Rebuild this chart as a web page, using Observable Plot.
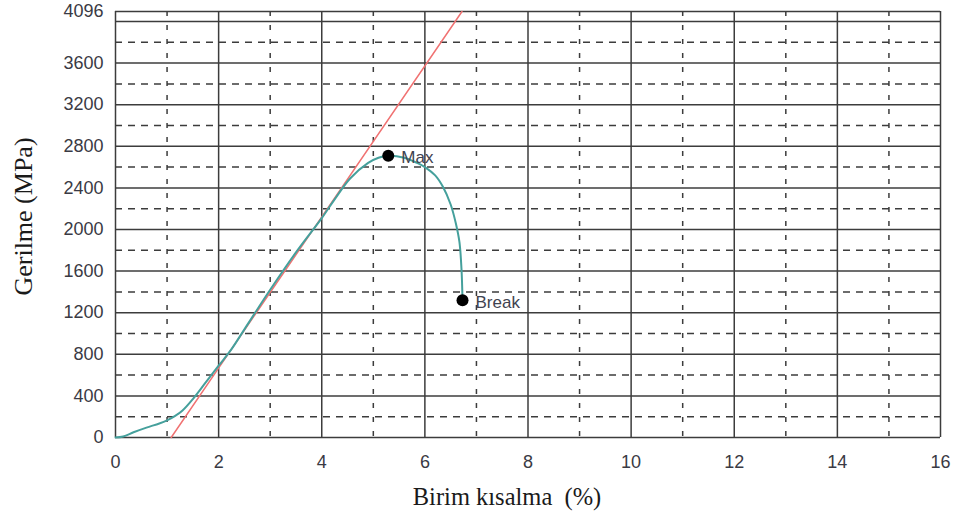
<!DOCTYPE html>
<html>
<head>
<meta charset="utf-8">
<script src="https://cdn.jsdelivr.net/npm/d3@7"></script>
<script src="https://cdn.jsdelivr.net/npm/@observablehq/plot@0.6"></script>
<style>
  html, body { margin: 0; padding: 0; background: #fff; }
</style>
</head>
<body>
<div id="chart"></div>
<script>
// Tick labels and grid positions
const xTicks = [0, 2, 4, 6, 8, 10, 12, 14, 16];
const xDashed = [1, 3, 5, 7, 9, 11, 13, 15];
const yTicks = [0, 400, 800, 1200, 1600, 2000, 2400, 2800, 3200, 3600, 4096];
const ySolid = [0, 400, 800, 1200, 1600, 2000, 2400, 2800, 3200, 3600, 4000, 4096];
const yDashed = [200, 600, 1000, 1400, 1800, 2200, 2600, 3000, 3400, 3800];

// Stress-strain curve (strain %, stress MPa)
const strain = [0, 0.15, 0.35, 0.6, 0.85, 1.0, 1.15, 1.3, 1.5, 1.75, 2.0, 2.25, 2.5, 3.0, 3.5, 4.0, 4.25, 4.55, 4.9, 5.1, 5.3, 5.6, 5.85, 6.0, 6.2, 6.35, 6.5, 6.6, 6.67, 6.71, 6.73];
const stress = [0, 10, 50, 95, 135, 165, 205, 260, 370, 530, 690, 850, 1040, 1420, 1780, 2110, 2290, 2490, 2640, 2690, 2710, 2690, 2640, 2600, 2520, 2410, 2240, 2060, 1880, 1620, 1320];

// Modulus (offset) line
const lineStrain = [1.08, 6.72];
const lineStress = [0, 4096];

// Marked points
const pointNames = ["Max", "Break"];
const pointStrain = [5.29, 6.73];
const pointStress = [2710, 1320];

const curve = strain.map((x, i) => ({x, y: stress[i]}));
const modLine = lineStrain.map((x, i) => ({x, y: lineStress[i]}));
const points = pointNames.map((name, i) => ({name, x: pointStrain[i], y: pointStress[i]}));

const gridColor = "#3c3c3c";
const serif = "Liberation Serif, Times New Roman, serif";

const chart = Plot.plot({
  width: 957,
  height: 517,
  marginLeft: 115,
  marginRight: 17,
  marginTop: 11,
  marginBottom: 80,
  style: {background: "#fff", fontFamily: "Liberation Sans, Arial, sans-serif"},
  x: {domain: [0, 16]},
  y: {domain: [0, 4096]},
  marks: [
    Plot.ruleY(yDashed, {stroke: gridColor, strokeWidth: 1.5, strokeDasharray: "7,6"}),
    Plot.ruleX(xDashed, {stroke: gridColor, strokeWidth: 1.5, strokeDasharray: "5,9"}),
    Plot.ruleY(ySolid, {stroke: gridColor, strokeWidth: 1.5}),
    Plot.ruleX(xTicks, {stroke: gridColor, strokeWidth: 1.5}),
    Plot.line(modLine, {x: "x", y: "y", stroke: "#f07272", strokeWidth: 1.5}),
    Plot.line(curve, {x: "x", y: "y", stroke: "#45a09c", strokeWidth: 2, curve: "catmull-rom"}),
    Plot.dot(points, {x: "x", y: "y", r: 6, fill: "#000", stroke: "none"}),
    Plot.text(points, {x: "x", y: "y", text: "name", textAnchor: "start", dx: 13, dy: 2, fontSize: 17, fill: "#3f4350"}),
    Plot.axisY({ticks: yTicks, tickFormat: d => String(d), tickSize: 0, tickPadding: 12, fontSize: 18, color: "#3a3a44", label: null}),
    Plot.axisX({ticks: xTicks, tickFormat: d => String(d), tickSize: 0, tickPadding: 18, fontSize: 18, color: "#3a3a44", label: null}),
    Plot.text(["Gerilme (MPa)"], {frameAnchor: "left", textAnchor: "middle", lineAnchor: "middle", dx: -92, dy: -8, rotate: -90, fontSize: 26, fontFamily: serif, fill: "#1a1a1a"}),
    Plot.text(["Birim kısalma  (%)"], {frameAnchor: "bottom", textAnchor: "middle", lineAnchor: "middle", dx: -21, dy: 60, fontSize: 24.5, fontFamily: serif, fill: "#1a1a1a"})
  ]
});
document.getElementById("chart").appendChild(chart);
</script>
</body>
</html>
